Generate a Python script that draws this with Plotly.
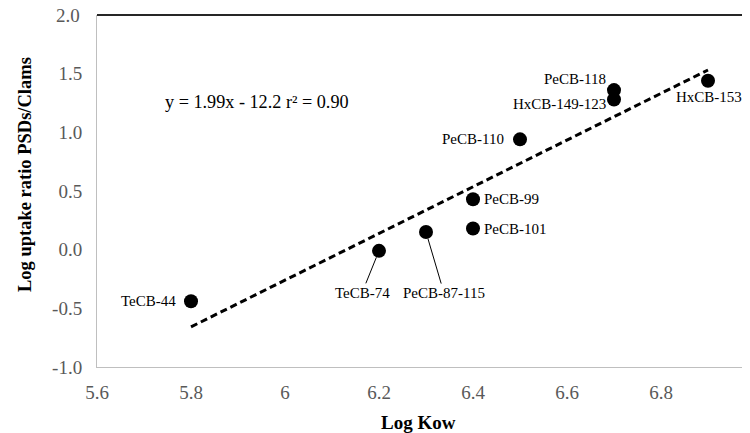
import plotly.graph_objects as go

# ---- data ----
compounds = ["TeCB-44", "TeCB-74", "PeCB-87-115", "PeCB-99", "PeCB-101",
             "PeCB-110", "PeCB-118", "HxCB-149-123", "HxCB-153"]
log_kow = [5.8, 6.2, 6.3, 6.4, 6.4, 6.5, 6.7, 6.7, 6.9]
log_ratio = [-0.44, -0.01, 0.15, 0.43, 0.18, 0.94, 1.36, 1.28, 1.44]

trend_slope = 1.99
trend_intercept = -12.2
trend_x = [5.8, 6.9]
equation_text = "y = 1.99x - 12.2 r² = 0.90"

x_tick_vals = [5.6, 5.8, 6.0, 6.2, 6.4, 6.6, 6.8, 7.0]
x_tick_text = ["5.6", "5.8", "6", "6.2", "6.4", "6.6", "6.8", "7"]
y_tick_vals = [-1.0, -0.5, 0.0, 0.5, 1.0, 1.5, 2.0]
y_tick_text = ["-1.0", "-0.5", "0.0", "0.5", "1.0", "1.5", "2.0"]

# ---- layout constants (page body has an 8px margin) ----
OFF = 8
W, H = 750 - OFF, 433 - OFF
ML, MR, MT, MB = 97 - OFF, 0, 15 - OFF, 433 - 367
PW, PH = W - ML - MR, H - MT - MB
X_MIN = 5.6
X_MAX = 5.6 + PW / 470.0
Y_MIN, Y_MAX = -1.0, 2.0
FONT = "Liberation Serif"
TICK_COLOR = "#595959"
TICK_SIZE = 19


def px_x(p):  # reference pixel -> paper x
    return (p - 97) / PW


def px_y(p):  # reference pixel -> paper y
    return (367 - p) / PH


trend_y = [trend_slope * x + trend_intercept for x in trend_x]

fig = go.Figure()
fig.add_trace(go.Scatter(
    x=trend_x, y=trend_y, mode="lines",
    line=dict(color="black", width=3, dash="7px,4px"),
    hoverinfo="skip", showlegend=False))
fig.add_trace(go.Scatter(
    x=log_kow, y=log_ratio, mode="markers", text=compounds,
    marker=dict(color="black", size=14),
    showlegend=False))

# label placement (style only)
placement = {
    "TeCB-44": dict(xanchor="right", xshift=-13, yshift=0),
    "PeCB-99": dict(xanchor="left", xshift=9, yshift=0),
    "PeCB-101": dict(xanchor="left", xshift=9, yshift=0),
    "PeCB-110": dict(xanchor="right", xshift=-14, yshift=0),
    "PeCB-118": dict(xanchor="right", xshift=-6, yshift=11),
    "HxCB-149-123": dict(xanchor="right", xshift=-6, yshift=-5),
    "HxCB-153": dict(xanchor="right", xshift=36, yshift=-16),
}
arrows = {
    "TeCB-74": (-17, 42),
    "PeCB-87-115": (18, 61),
}

annotations = []
for name, xv, yv in zip(compounds, log_kow, log_ratio):
    if name in arrows:
        ax, ay = arrows[name]
        annotations.append(dict(
            x=xv, y=yv, xref="x", yref="y", text=name, showarrow=True,
            ax=ax, ay=ay, arrowhead=0, arrowwidth=1, arrowcolor="black",
            standoff=7, font=dict(family=FONT, size=15, color="black")))
    else:
        p = placement[name]
        annotations.append(dict(
            x=xv, y=yv, xref="x", yref="y", text=name, showarrow=False,
            xanchor=p["xanchor"], yanchor="middle",
            xshift=p["xshift"], yshift=p["yshift"],
            font=dict(family=FONT, size=15, color="black")))

# equation
annotations.append(dict(
    x=px_x(163), y=px_y(102), xref="paper", yref="paper", text=equation_text,
    showarrow=False, xanchor="left", yanchor="middle",
    font=dict(family=FONT, size=18.2, color="black")))

# tick labels that sit on/over the figure edge are drawn as annotations
annotations.append(dict(
    x=(x_tick_vals[-1] - X_MIN) / (X_MAX - X_MIN), y=px_y(389),
    xref="paper", yref="paper", text=x_tick_text[-1], showarrow=False,
    xanchor="center", yanchor="middle",
    font=dict(family=FONT, size=TICK_SIZE, color=TICK_COLOR)))
annotations.append(dict(
    x=px_x(82), y=(y_tick_vals[-1] - Y_MIN) / (Y_MAX - Y_MIN),
    xref="paper", yref="paper", text=y_tick_text[-1], showarrow=False,
    xanchor="right", yanchor="middle",
    font=dict(family=FONT, size=TICK_SIZE, color=TICK_COLOR)))

# axis titles
annotations.append(dict(
    x=px_x(418), y=px_y(422), xref="paper", yref="paper",
    text="<b>Log Kow</b>", showarrow=False, xanchor="center", yanchor="middle",
    font=dict(family=FONT, size=19, color="black")))
annotations.append(dict(
    x=px_x(25), y=px_y(175), xref="paper", yref="paper",
    text="<b>Log uptake ratio PSDs/Clams</b>", showarrow=False, textangle=-90,
    xanchor="center", yanchor="middle",
    font=dict(family=FONT, size=18.5, color="black")))

fig.update_layout(
    width=W, height=H,
    margin=dict(l=ML, r=MR, t=MT, b=MB, pad=0, autoexpand=False),
    paper_bgcolor="white", plot_bgcolor="white",
    showlegend=False,
    annotations=annotations,
    shapes=[dict(type="line", xref="paper", yref="paper", x0=0, x1=1, y0=1, y1=1,
                 line=dict(color="#262626", width=2))],
    xaxis=dict(range=[X_MIN, X_MAX], showgrid=False, zeroline=False,
               showline=True, linecolor="#bfbfbf", linewidth=1,
               tickmode="array", tickvals=x_tick_vals[:-1],
               ticktext=x_tick_text[:-1],
               ticks="", ticklabelstandoff=8, automargin=False,
               tickfont=dict(family=FONT, size=TICK_SIZE, color=TICK_COLOR)),
    yaxis=dict(range=[Y_MIN, Y_MAX], showgrid=False, zeroline=False,
               showline=True, linecolor="#bfbfbf", linewidth=1,
               tickmode="array", tickvals=y_tick_vals[:-1],
               ticktext=y_tick_text[:-1],
               ticks="", ticklabelstandoff=10, automargin=False,
               tickfont=dict(family=FONT, size=TICK_SIZE, color=TICK_COLOR)),
)

fig.write_html("out.html")
